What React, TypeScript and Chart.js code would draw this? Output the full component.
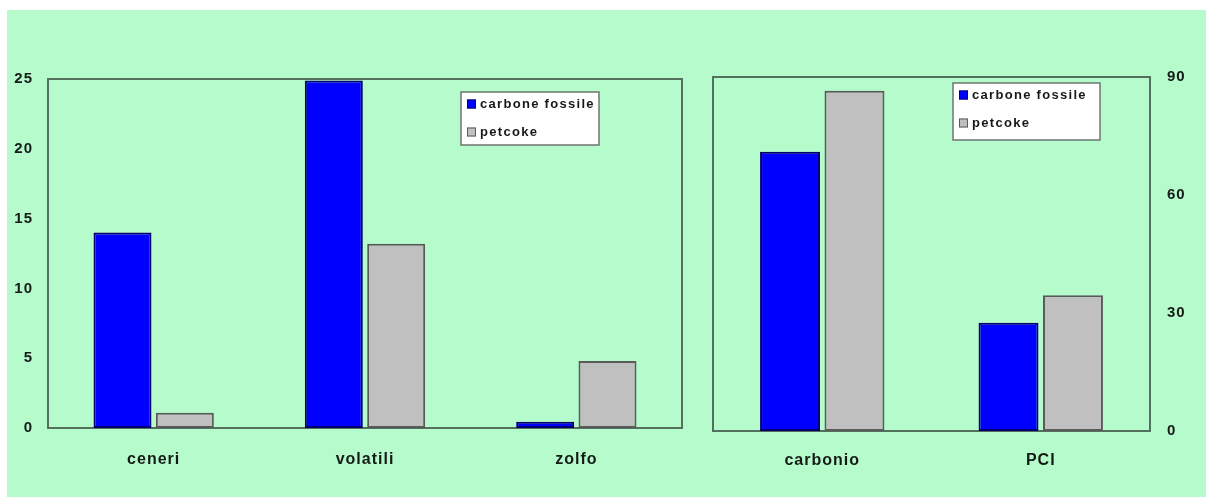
import React, { useEffect, useRef } from "react";
import { Chart, registerables } from "chart.js";

Chart.register(...registerables);

// Left panel: ash, volatiles and sulphur content (%)
const leftCategories = ["ceneri", "volatili", "zolfo"];
const leftCarbone = [14, 24.9, 0.45];
const leftPetcoke = [1.1, 13.2, 4.8];
const leftMax = 25;
const leftStep = 5;

// Right panel: carbon content and calorific value
const rightCategories = ["carbonio", "PCI"];
const rightCarbone = [71, 27.5];
const rightPetcoke = [86.5, 34.5];
const rightMax = 90;
const rightStep = 30;

const seriesNames = ["carbone fossile", "petcoke"];

const FONT = 'Arial, "Liberation Sans", sans-serif';
const TEXT = "#161a17";
const BLUE = "#0000ff";
const BLUE_EDGE = "#000070";
const GREY = "#c0c0c0";
const GREY_EDGE = "#5a5a5a";
const FRAME = "#52705b";
const BG = "#b5fbcc";

// Plot-area frame drawn on all four sides
const framePlugin = {
  id: "frame",
  beforeDatasetsDraw(chart: any) {
    const { ctx, chartArea: a } = chart;
    ctx.save();
    ctx.strokeStyle = FRAME;
    ctx.lineWidth = 2;
    ctx.strokeRect(a.left, a.top, a.right - a.left, a.bottom - a.top);
    ctx.restore();
  },
};

// Boxed legend placed inside the plot area
const boxLegendPlugin = {
  id: "boxLegend",
  afterDraw(chart: any, _args: any, opts: any) {
    const { ctx, chartArea: a } = chart;
    const x = a.left + opts.x;
    const y = a.top + opts.y;
    ctx.save();
    ctx.fillStyle = "#ffffff";
    ctx.fillRect(x, y, opts.w, opts.h);
    ctx.strokeStyle = "#6f756f";
    ctx.lineWidth = 1.5;
    ctx.strokeRect(x, y, opts.w, opts.h);
    ctx.font = `bold 13px ${FONT}`;
    (ctx as any).letterSpacing = "1.3px";
    ctx.textBaseline = "middle";
    ctx.textAlign = "left";
    chart.data.datasets.forEach((ds: any, i: number) => {
      const cy = y + opts.rows[i];
      ctx.fillStyle = ds.backgroundColor;
      ctx.fillRect(x + 6, cy - 4.5, 9, 9);
      ctx.strokeStyle = ds.borderColor;
      ctx.lineWidth = 1;
      ctx.strokeRect(x + 6.5, cy - 4, 8, 8);
      ctx.fillStyle = TEXT;
      ctx.fillText(ds.label, x + 19, cy + 0.5);
    });
    ctx.restore();
  },
};

const spacingPlugin = {
  id: "spacing",
  beforeDraw(chart: any) {
    (chart.ctx as any).letterSpacing = "1px";
  },
};

function makeConfig(
  labels: string[],
  a: number[],
  b: number[],
  p: {
    max: number;
    step: number;
    yPos: "left" | "right";
    yWidth: number;
    xHeight: number;
    xPad: number;
    yPad: number;
    padding: any;
    legend: any;
  }
): any {
  return {
    type: "bar",
    data: {
      labels,
      datasets: [
        {
          label: seriesNames[0],
          data: a,
          backgroundColor: BLUE,
          borderColor: BLUE_EDGE,
          borderWidth: 2,
          borderSkipped: false,
        },
        {
          label: seriesNames[1],
          data: b,
          backgroundColor: GREY,
          borderColor: GREY_EDGE,
          borderWidth: 2,
          borderSkipped: false,
        },
      ],
    },
    options: {
      responsive: false,
      animation: false,
      devicePixelRatio: 1,
      layout: { padding: p.padding },
      datasets: { bar: { categoryPercentage: 0.59, barPercentage: 0.93 } },
      plugins: {
        legend: { display: false },
        tooltip: { enabled: false },
        boxLegend: p.legend,
      },
      scales: {
        x: {
          grid: { display: false, drawTicks: false },
          border: { display: false },
          ticks: {
            color: TEXT,
            padding: p.xPad,
            font: { family: FONT, size: 16, weight: "bold" },
          },
          afterFit(s: any) {
            s.height = p.xHeight;
          },
        },
        y: {
          position: p.yPos,
          min: 0,
          max: p.max,
          grid: { display: false, drawTicks: false },
          border: { display: false },
          ticks: {
            stepSize: p.step,
            color: TEXT,
            padding: p.yPad,
            font: { family: FONT, size: 15, weight: "bold" },
          },
          afterFit(s: any) {
            s.width = p.yWidth;
          },
        },
      },
    },
    plugins: [spacingPlugin, framePlugin, boxLegendPlugin],
  };
}

export default function App() {
  const leftRef = useRef<HTMLCanvasElement>(null);
  const rightRef = useRef<HTMLCanvasElement>(null);

  useEffect(() => {
    const left = new Chart(
      leftRef.current as HTMLCanvasElement,
      makeConfig(leftCategories, leftCarbone, leftPetcoke, {
        max: leftMax,
        step: leftStep,
        yPos: "left",
        yWidth: 41,
        xHeight: 69,
        xPad: 22,
        yPad: 15,
        padding: { left: 0, right: 15, top: 69, bottom: 0 },
        legend: { x: 413, y: 13, w: 138, h: 53, rows: [12, 40] },
      })
    );
    const right = new Chart(
      rightRef.current as HTMLCanvasElement,
      makeConfig(rightCategories, rightCarbone, rightPetcoke, {
        max: rightMax,
        step: rightStep,
        yPos: "right",
        yWidth: 56,
        xHeight: 66,
        xPad: 20,
        yPad: 17,
        padding: { left: 16, right: 0, top: 67, bottom: 0 },
        legend: { x: 240, y: 6, w: 147, h: 57, rows: [12, 40] },
      })
    );
    return () => {
      left.destroy();
      right.destroy();
    };
  }, []);

  return (
    <div
      style={{
        position: "fixed",
        left: 0,
        top: 0,
        width: 1206,
        height: 497,
        background: "#ffffff",
        overflow: "hidden",
      }}
    >
      <div
        style={{
          position: "absolute",
          left: 7,
          top: 10,
          right: 0,
          bottom: 0,
          background: BG,
        }}
      >
        <canvas
          ref={leftRef}
          width={690}
          height={487}
          style={{ position: "absolute", left: 0, top: 0, width: 690, height: 487 }}
        />
        <canvas
          ref={rightRef}
          width={509}
          height={487}
          style={{ position: "absolute", left: 690, top: 0, width: 509, height: 487 }}
        />
      </div>
    </div>
  );
}
